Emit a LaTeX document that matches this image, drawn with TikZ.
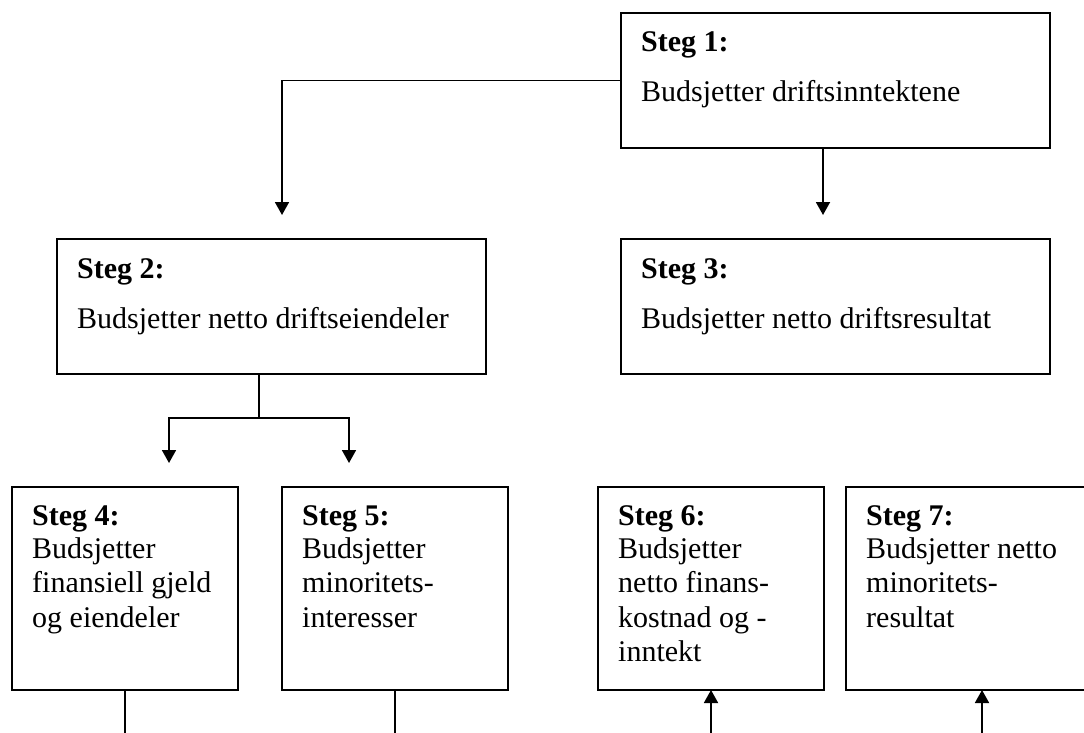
\documentclass[tikz,border=0pt]{standalone}
\usepackage{fontspec}
\setmainfont{Liberation Serif}
\usetikzlibrary{arrows.meta}
\begin{document}
\begin{tikzpicture}[x=1pt,y=-1pt,
  box/.style={draw, line width=1.8pt, inner sep=0pt, outer sep=0pt},
  wide/.style={box, minimum width=429pt, minimum height=135pt},
  narrow/.style={box, minimum width=226pt, minimum height=203pt},
  head/.style={anchor=base west, inner sep=0pt, font=\fontsize{30}{34.6}\selectfont\bfseries},
  body/.style={anchor=base west, inner sep=0pt, font=\fontsize{30}{34.6}\selectfont},
  conn/.style={line width=1.8pt},
  arr/.style={conn, -{Triangle[width=14pt,length=13pt]}}]
\useasboundingbox (0,0) rectangle (1084,733);
\clip (0,0) rectangle (1084,733);
% boxes
\node[wide] (s1) at (835.5,80.5) {};
\node[wide] (s2) at (271.5,306.5) {};
\node[wide] (s3) at (835.5,306.5) {};
\node[narrow] (s4) at (125,588.5) {};
\node[narrow] (s5) at (395,588.5) {};
\node[narrow] (s6) at (711,588.5) {};
\node[box, minimum width=272pt, minimum height=203pt] (s7) at (982,588.5) {};
% texts
\node[head] (h1) at ([shift={(20,39)}]s1.north west) {Steg 1:};
\node[body] (b1) at ([shift={(20,89)}]s1.north west) {Budsjetter driftsinntektene};
\node[head] (h2) at ([shift={(20,39)}]s2.north west) {Steg 2:};
\node[body] (b2) at ([shift={(20,89)}]s2.north west) {Budsjetter netto driftseiendeler};
\node[head] (h3) at ([shift={(20,39)}]s3.north west) {Steg 3:};
\node[body] (b3) at ([shift={(20,89)}]s3.north west) {Budsjetter netto driftsresultat};
\node[head] (h4) at ([shift={(20,38)}]s4.north west) {Steg 4:};
\node[body] (b4) at ([shift={(20,71)}]s4.north west) {\vtop{\hbox{Budsjetter}\hbox{finansiell gjeld}\hbox{og eiendeler}}};
\node[head] (h5) at ([shift={(20,38)}]s5.north west) {Steg 5:};
\node[body] (b5) at ([shift={(20,71)}]s5.north west) {\vtop{\hbox{Budsjetter}\hbox{minoritets-}\hbox{interesser}}};
\node[head] (h6) at ([shift={(20,38)}]s6.north west) {Steg 6:};
\node[body] (b6) at ([shift={(20,71)}]s6.north west) {\vtop{\hbox{Budsjetter}\hbox{netto finans-}\hbox{kostnad og -}\hbox{inntekt}}};
\node[head] (h7) at ([shift={(20,38)}]s7.north west) {Steg 7:};
\node[body] (b7) at ([shift={(20,71)}]s7.north west) {\vtop{\hbox{Budsjetter netto}\hbox{minoritets-}\hbox{resultat}}};
% connector coordinates
\coordinate (a2) at (282,215);
\coordinate (a3) at (823,215);
\coordinate (fork) at (259,418);
\coordinate (a4) at (169,463);
\coordinate (a5) at (349,463);
\coordinate (bot) at (0,745);
% connectors
\draw[arr] (s1.west) -| (a2);
\draw[arr] (s1.south -| a3) -- (a3);
\draw[conn] (s2.south -| fork) -- (fork);
\draw[arr] (fork) -| (a4);
\draw[arr] (fork) -| (a5);
\draw[conn] (s4.south) -- (s4.south |- bot);
\draw[conn] (s5.south) -- (s5.south |- bot);
\draw[arr] (s6.south |- bot) -- (s6.south);
\draw[arr] (s7.south |- bot) -- (s7.south);
\end{tikzpicture}
\end{document}
